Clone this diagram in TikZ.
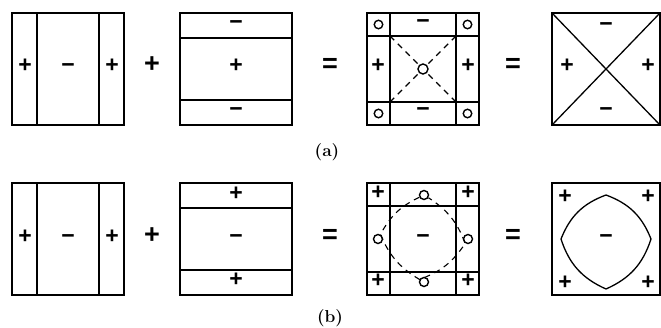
\documentclass[tikz,border=0pt]{standalone}
\usepackage{fontspec}
\newfontfamily\signfont{Liberation Sans}
\begin{document}
\begin{tikzpicture}[x=1pt,y=1pt,line width=1.3pt,
	every node/.style={inner sep=0pt,text height=0.8em,text depth=0pt},
	font=\signfont\bfseries\fontsize{23}{23}\selectfont,
	op/.style={font=\signfont\bfseries\fontsize{27}{27}\selectfont},
	ring/.style={draw,circle,line width=1.4pt,minimum size=#1,text height=,text depth=},
	ring/.default=8.5pt,
	dsh/.style={line width=1.1pt,dash pattern=on 6pt off 5pt},
	sublabel/.style={font=\LARGE\bfseries,text height=,text depth=}]
	\useasboundingbox (0,0) rectangle (661,327);
	% parts common to both rows
	\foreach \r/\ys in {a/202,b/32}{
		\begin{scope}[yshift=\ys pt]
			\draw (12,0) rectangle (124,112) (37,0)--(37,112) (99,0)--(99,112);
			\draw (180,0) rectangle (292,112) (180,25)--(292,25) (180,87)--(292,87);
			\draw (367,0) rectangle (479,112) (390,0)--(390,112) (456,0)--(456,112)
				(367,23)--(479,23) (367,89)--(479,89);
			\draw (552,0) rectangle (660,112);
			\foreach \n/\x/\t in {L/25/+, M/68/−, R/112/+}{
				\node (\r1\n) at (\x,56) {\t};
			}
			\node[op] (\r plus) at (152,56) {+};
			\node[op] (\r eqA) at (330,56) {=};
			\node[op] (\r eqB) at (513,56) {=};
		\end{scope}
	}
	% row (a)
	\begin{scope}[yshift=202pt]
		\foreach \n/\y/\t in {T/99/−, M/56/+, B/12/−}{
			\node (a2\n) at (236,\y) {\t};
		}
		\foreach \n/\x/\y/\t in {T/423/100/−, B/423/12/−, L/378/56/+, R/468/56/+}{
			\node (a3\n) at (\x,\y) {\t};
		}
		\foreach \n/\x/\y in {TL/378.5/100.5, TR/467.5/100.5, BL/378.5/11.5, BR/467.5/11.5}{
			\node[ring] (a3o\n) at (\x,\y) {};
		}
		\node[ring=10pt] (a3o) at (423,56) {};
		\path (390,89) coordinate (a3cTL) (456,89) coordinate (a3cTR)
			(390,23) coordinate (a3cBL) (456,23) coordinate (a3cBR);
		\foreach \c in {TL,TR,BL,BR}{
			\draw[dsh] (a3c\c)--(a3o);
		}
		\draw (552,0)--(660,112) (552,112)--(660,0);
		\foreach \n/\x/\y/\t in {T/606/97/−, B/606/12/−, L/567/56/+, R/648/56/+}{
			\node (a4\n) at (\x,\y) {\t};
		}
		\node[sublabel] (capa) at (327,-27) {(a)};
	\end{scope}
	% row (b)
	\begin{scope}[yshift=32pt]
		\foreach \n/\y/\t in {T/99/+, M/56/−, B/13/+}{
			\node (b2\n) at (236,\y) {\t};
		}
		\foreach \n/\x/\y/\t in {TL/378/100/+, TR/468/100/+, BL/378/12/+, BR/468/12/+, M/423/56/−}{
			\node (b3\n) at (\x,\y) {\t};
		}
		\foreach \n/\x/\y in {T/424/100, L/378/56, R/468/56, B/424/13}{
			\node[ring=9pt] (b3o\n) at (\x,\y) {};
		}
		\draw[dsh] (b3oT) to[bend right=18] (b3oL) to[bend right=18] (b3oB)
			to[bend right=18] (b3oR) to[bend right=18] (b3oT);
		\path (606,100) coordinate (b4T) (561,56) coordinate (b4L)
			(606,6) coordinate (b4B) (651,56) coordinate (b4R);
		\draw (b4T) to[bend right=24] (b4L) to[bend right=24] (b4B)
			to[bend right=24] (b4R) to[bend right=24] (b4T);
		\foreach \n/\x/\y/\t in {TL/565/96/+, TR/648/96/+, BL/565/10/+, BR/648/10/+, M/606/56/−}{
			\node (b4\n) at (\x,\y) {\t};
		}
		\node[sublabel] (capb) at (330,-23) {(b)};
	\end{scope}
\end{tikzpicture}
\end{document}
